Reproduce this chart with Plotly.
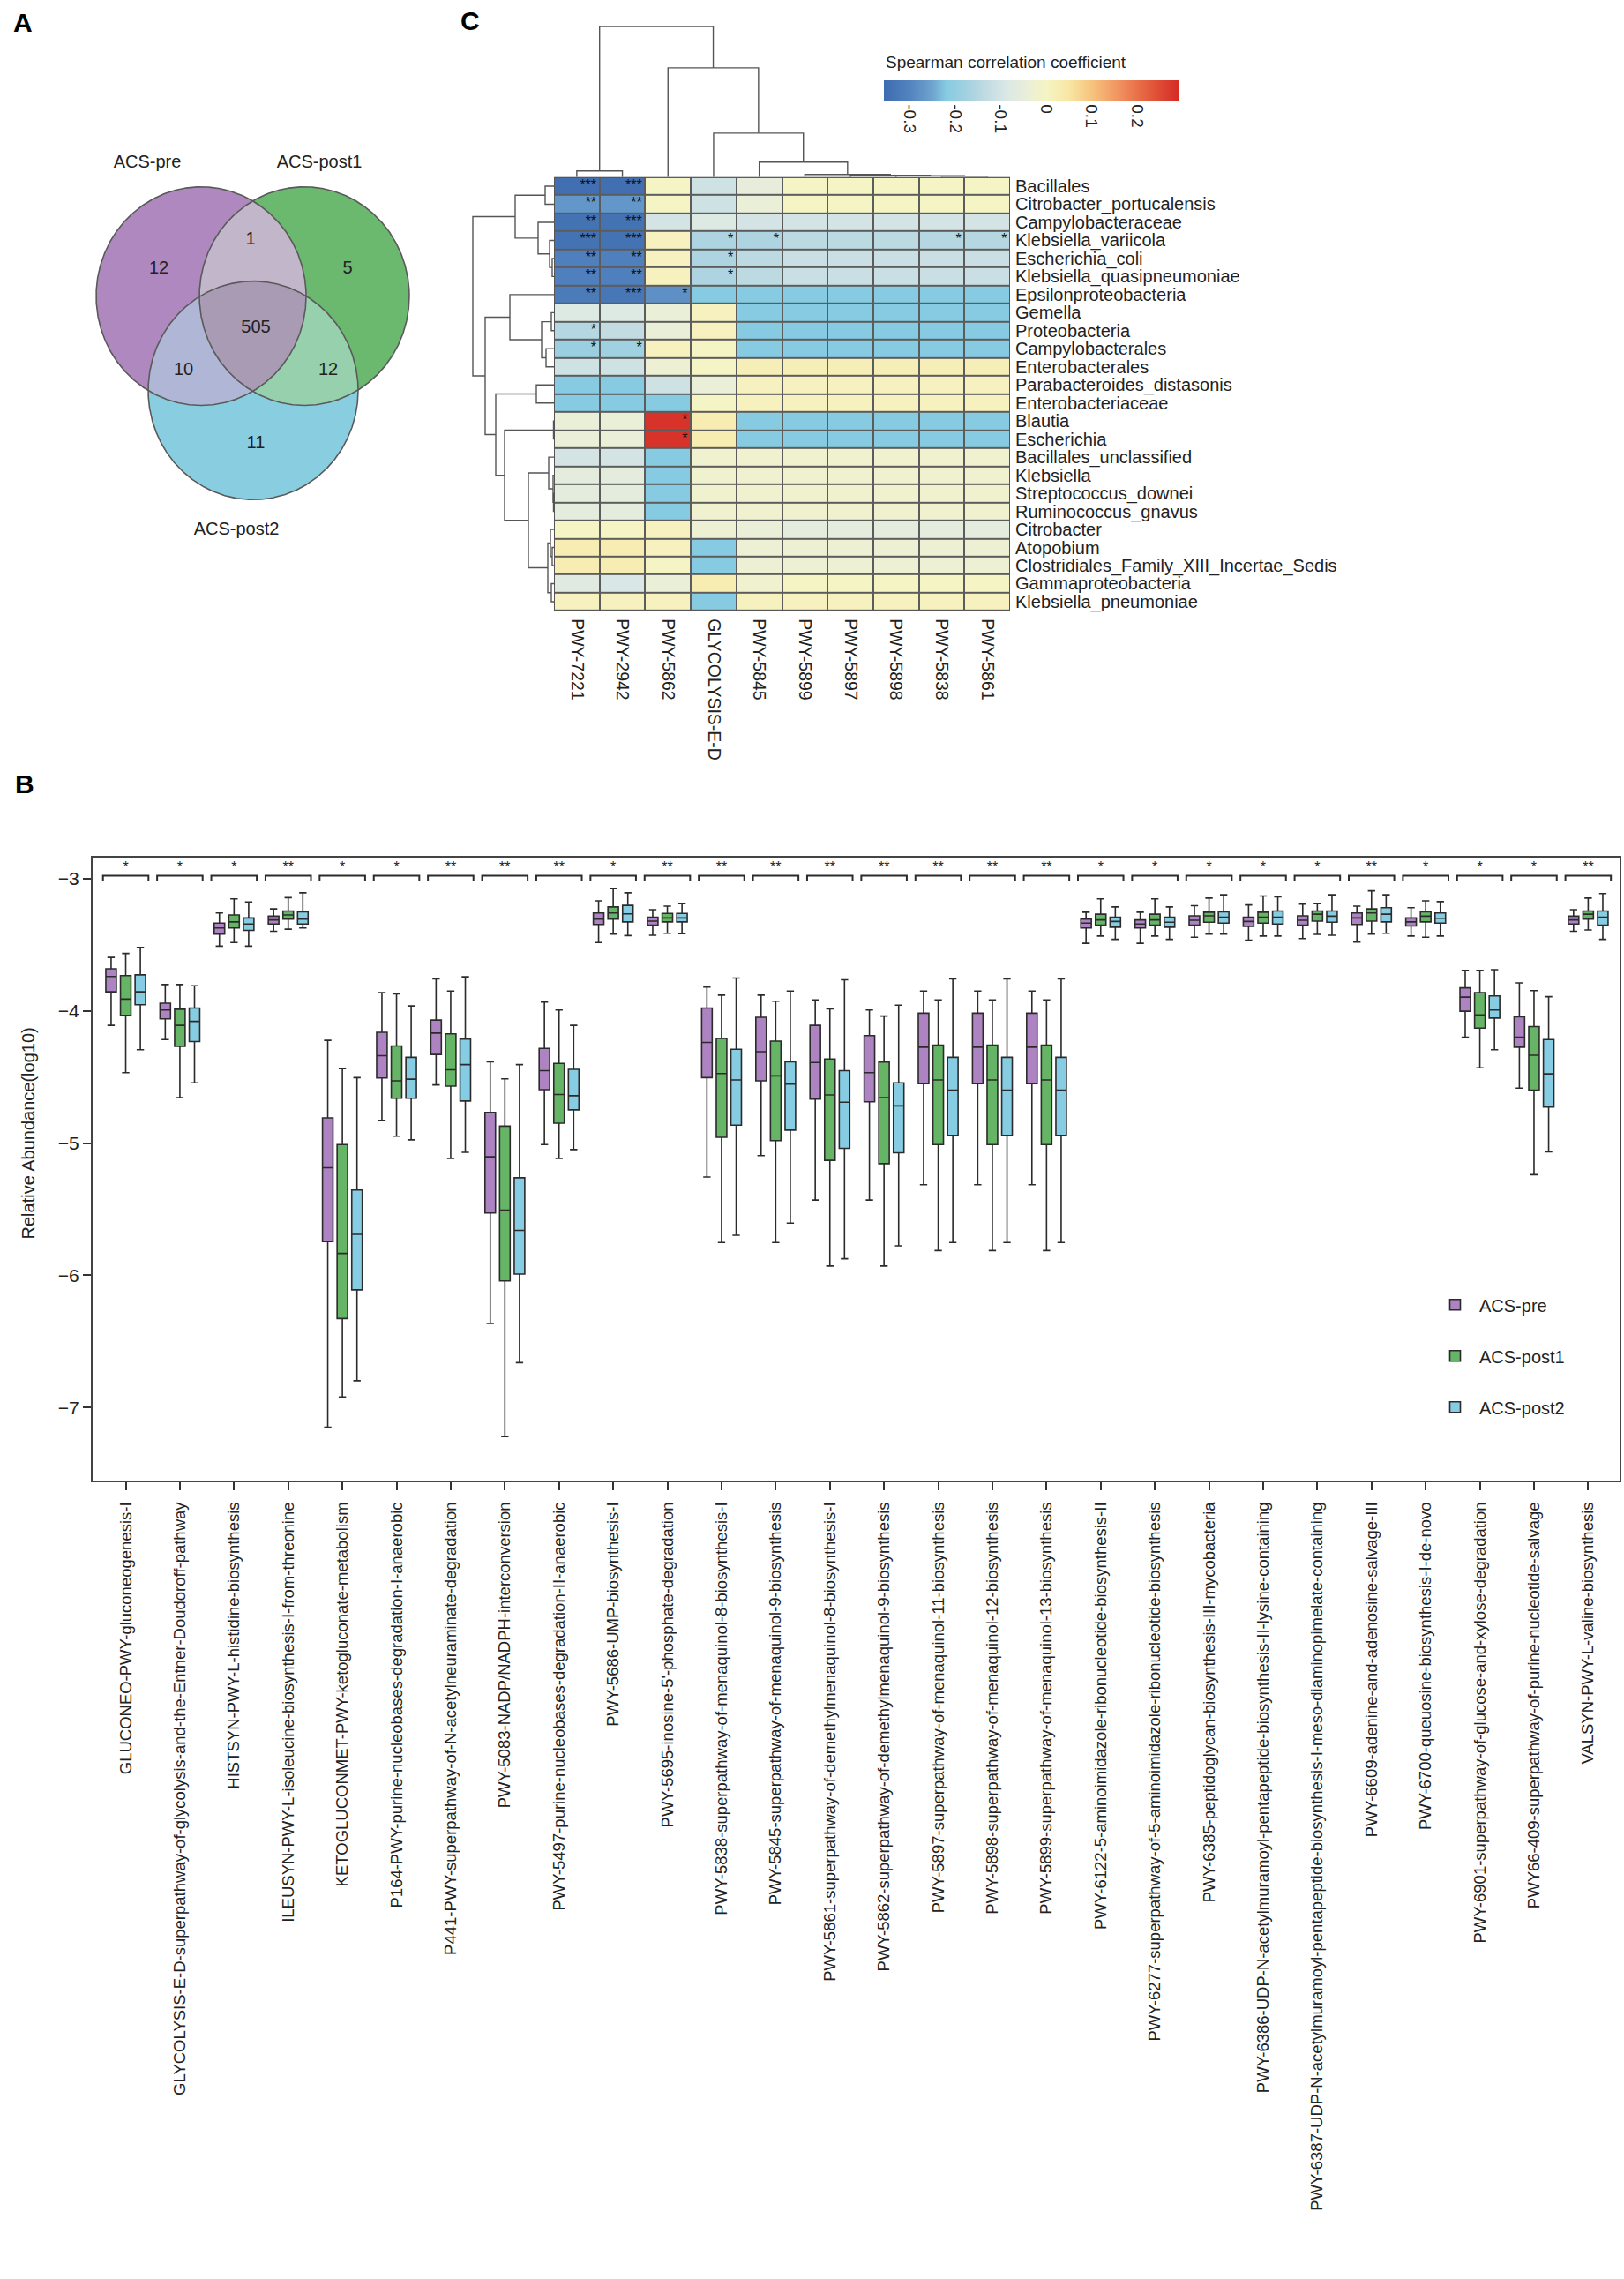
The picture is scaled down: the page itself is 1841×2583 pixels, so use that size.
import numpy as np
import plotly.graph_objects as go

W, H = 1841, 2583
FONT = "Liberation Sans, Arial, Helvetica, sans-serif"

# ---------------- Panel A : Venn data ----------------
venn_sets = ["ACS-pre", "ACS-post1", "ACS-post2"]
venn_only = [12, 5, 11]          # pre only, post1 only, post2 only
venn_pairs = [1, 10, 12]         # pre&post1, pre&post2, post1&post2
venn_all = [505]

# ---------------- Panel C : heatmap data ----------------
taxa = ["Bacillales", "Citrobacter_portucalensis", "Campylobacteraceae", "Klebsiella_variicola",
        "Escherichia_coli", "Klebsiella_quasipneumoniae", "Epsilonproteobacteria", "Gemella",
        "Proteobacteria", "Campylobacterales", "Enterobacterales", "Parabacteroides_distasonis",
        "Enterobacteriaceae", "Blautia", "Escherichia", "Bacillales_unclassified", "Klebsiella",
        "Streptococcus_downei", "Ruminococcus_gnavus", "Citrobacter", "Atopobium",
        "Clostridiales_Family_XIII_Incertae_Sedis", "Gammaproteobacteria", "Klebsiella_pneumoniae"]
heat_pathways = ["PWY-7221", "PWY-2942", "PWY-5862", "GLYCOLYSIS-E-D", "PWY-5845",
                 "PWY-5899", "PWY-5897", "PWY-5898", "PWY-5838", "PWY-5861"]
spearman = [
    [-0.35, -0.35, 0.00, -0.11, -0.05, 0.00, 0.00, 0.00, 0.00, 0.00],
    [-0.27, -0.27, 0.00, -0.11, -0.04, 0.00, 0.00, 0.00, 0.00, 0.00],
    [-0.34, -0.34, -0.10, -0.08, -0.10, -0.10, -0.10, -0.10, -0.10, -0.10],
    [-0.34, -0.34, 0.01, -0.16, -0.16, -0.14, -0.14, -0.14, -0.15, -0.15],
    [-0.31, -0.31, 0.01, -0.16, -0.14, -0.12, -0.12, -0.12, -0.12, -0.12],
    [-0.31, -0.31, 0.01, -0.16, -0.14, -0.12, -0.12, -0.12, -0.12, -0.12],
    [-0.32, -0.33, -0.28, -0.22, -0.22, -0.22, -0.22, -0.22, -0.22, -0.22],
    [-0.08, -0.08, -0.04, 0.01, -0.22, -0.22, -0.22, -0.22, -0.22, -0.22],
    [-0.15, -0.13, -0.04, 0.01, -0.22, -0.22, -0.22, -0.22, -0.22, -0.22],
    [-0.19, -0.18, 0.01, 0.00, -0.22, -0.22, -0.22, -0.22, -0.22, -0.22],
    [-0.11, -0.11, -0.03, 0.00, 0.02, 0.02, 0.02, 0.02, 0.02, 0.02],
    [-0.22, -0.22, -0.11, -0.04, 0.01, 0.01, 0.01, 0.01, 0.01, 0.01],
    [-0.22, -0.22, -0.22, 0.00, 0.01, 0.01, 0.01, 0.01, 0.01, 0.01],
    [-0.04, -0.04, 0.28, 0.03, -0.22, -0.22, -0.22, -0.22, -0.22, -0.22],
    [-0.04, -0.04, 0.28, 0.03, -0.22, -0.22, -0.22, -0.22, -0.22, -0.22],
    [-0.10, -0.10, -0.22, -0.02, -0.02, -0.02, -0.02, -0.02, -0.02, -0.02],
    [-0.06, -0.06, -0.22, -0.02, -0.02, -0.02, -0.02, -0.02, -0.02, -0.02],
    [-0.06, -0.06, -0.22, -0.02, -0.02, -0.02, -0.02, -0.02, -0.02, -0.02],
    [-0.06, -0.06, -0.22, -0.02, -0.02, -0.02, -0.02, -0.02, -0.02, -0.02],
    [0.00, 0.00, 0.01, -0.03, -0.04, -0.06, -0.06, -0.06, -0.06, -0.06],
    [0.03, 0.03, 0.01, -0.22, -0.03, -0.03, -0.03, -0.03, -0.03, -0.03],
    [0.03, 0.03, 0.00, -0.22, -0.03, -0.03, -0.03, -0.03, -0.03, -0.03],
    [-0.07, -0.09, -0.04, 0.03, -0.02, 0.00, 0.00, 0.00, 0.00, 0.00],
    [0.01, 0.01, 0.01, -0.22, 0.01, 0.01, 0.01, 0.01, 0.01, 0.01],
]
heat_sig = [
    ["***", "***", "", "", "", "", "", "", "", ""],
    ["**", "**", "", "", "", "", "", "", "", ""],
    ["**", "***", "", "", "", "", "", "", "", ""],
    ["***", "***", "", "*", "*", "", "", "", "*", "*"],
    ["**", "**", "", "*", "", "", "", "", "", ""],
    ["**", "**", "", "*", "", "", "", "", "", ""],
    ["**", "***", "*", "", "", "", "", "", "", ""],
    ["", "", "", "", "", "", "", "", "", ""],
    ["*", "", "", "", "", "", "", "", "", ""],
    ["*", "*", "", "", "", "", "", "", "", ""],
    ["", "", "", "", "", "", "", "", "", ""],
    ["", "", "", "", "", "", "", "", "", ""],
    ["", "", "", "", "", "", "", "", "", ""],
    ["", "", "*", "", "", "", "", "", "", ""],
    ["", "", "*", "", "", "", "", "", "", ""],
] + [[""] * 10 for _ in range(9)]
# hierarchical clustering (left, right, height) - scipy-like linkage, leaves in display order
col_linkage = [(0, 1, 7), (8, 9, 1), (7, 11, 1.5), (6, 12, 2), (5, 13, 3),
               (4, 14, 17), (3, 15, 50), (2, 16, 124), (10, 17, 171)]
row_linkage = [(0, 1, 10), (4, 5, 2), (3, 25, 5), (2, 26, 18), (24, 27, 44),
               (7, 8, 3), (9, 10, 9), (29, 30, 14), (6, 31, 50), (11, 12, 20),
               (13, 14, 0.5), (17, 18, 0.5), (16, 35, 1), (15, 36, 6), (20, 21, 2),
               (19, 38, 4), (22, 23, 3), (39, 40, 7), (37, 41, 29), (34, 42, 56),
               (33, 43, 66), (32, 44, 78), (28, 45, 92)]
cbar_ticks = [-0.3, -0.2, -0.1, 0, 0.1, 0.2]
cbar_labels = ["-0.3", "-0.2", "-0.1", "0", "0.1", "0.2"]

# ---------------- Panel B : box plot data ----------------
box_pathways = [
    "GLUCONEO-PWY-gluconeogenesis-I",
    "GLYCOLYSIS-E-D-superpathway-of-glycolysis-and-the-Entner-Doudoroff-pathway",
    "HISTSYN-PWY-L-histidine-biosynthesis",
    "ILEUSYN-PWY-L-isoleucine-biosynthesis-I-from-threonine",
    "KETOGLUCONMET-PWY-ketogluconate-metabolism",
    "P164-PWY-purine-nucleobases-degradation-I-anaerobic",
    "P441-PWY-superpathway-of-N-acetylneuraminate-degradation",
    "PWY-5083-NADP/NADPH-interconversion",
    "PWY-5497-purine-nucleobases-degradation-II-anaerobic",
    "PWY-5686-UMP-biosynthesis-I",
    "PWY-5695-inosine-5'-phosphate-degradation",
    "PWY-5838-superpathway-of-menaquinol-8-biosynthesis-I",
    "PWY-5845-superpathway-of-menaquinol-9-biosynthesis",
    "PWY-5861-superpathway-of-demethylmenaquinol-8-biosynthesis-I",
    "PWY-5862-superpathway-of-demethylmenaquinol-9-biosynthesis",
    "PWY-5897-superpathway-of-menaquinol-11-biosynthesis",
    "PWY-5898-superpathway-of-menaquinol-12-biosynthesis",
    "PWY-5899-superpathway-of-menaquinol-13-biosynthesis",
    "PWY-6122-5-aminoimidazole-ribonucleotide-biosynthesis-II",
    "PWY-6277-superpathway-of-5-aminoimidazole-ribonucleotide-biosynthesis",
    "PWY-6385-peptidoglycan-biosynthesis-III-mycobacteria",
    "PWY-6386-UDP-N-acetylmuramoyl-pentapeptide-biosynthesis-II-lysine-containing",
    "PWY-6387-UDP-N-acetylmuramoyl-pentapeptide-biosynthesis-I-meso-diaminopimelate-containing",
    "PWY-6609-adenine-and-adenosine-salvage-III",
    "PWY-6700-queuosine-biosynthesis-I-de-novo",
    "PWY-6901-superpathway-of-glucose-and-xylose-degradation",
    "PWY66-409-superpathway-of-purine-nucleotide-salvage",
    "VALSYN-PWY-L-valine-biosynthesis",
]
box_sig = ["*", "*", "*", "**", "*", "*", "**", "**", "**", "*", "**", "**", "**", "**",
           "**", "**", "**", "**", "*", "*", "*", "*", "*", "**", "*", "*", "*", "**"]
groups = ["ACS-pre", "ACS-post1", "ACS-post2"]

pre_lo = [-4.110, -4.217, -3.511, -3.398, -7.150, -4.829, -4.560, -6.364, -5.012, -3.483, -3.428, -5.257, -5.095, -5.431,
          -5.431, -5.315, -5.315, -5.315, -3.489, -3.489, -3.443, -3.465, -3.453, -3.480, -3.434, -4.199, -4.584, -3.398]
pre_q1 = [-3.856, -4.061, -3.419, -3.343, -5.746, -4.508, -4.330, -5.529, -4.596, -3.346, -3.352, -4.505, -4.529, -4.667,
          -4.688, -4.550, -4.550, -4.550, -3.373, -3.373, -3.352, -3.361, -3.352, -3.346, -3.358, -4.003, -4.275, -3.343]
pre_med = [-3.740, -3.994, -3.373, -3.312, -5.187, -4.339, -4.168, -5.104, -4.453, -3.306, -3.321, -4.239, -4.309, -4.391,
           -4.468, -4.275, -4.275, -4.275, -3.336, -3.343, -3.315, -3.324, -3.315, -3.297, -3.327, -3.896, -4.199, -3.312]
pre_q3 = [-3.682, -3.942, -3.336, -3.284, -4.810, -4.162, -4.070, -4.768, -4.284, -3.260, -3.291, -3.979, -4.049, -4.110,
          -4.187, -4.018, -4.018, -4.018, -3.306, -3.312, -3.281, -3.291, -3.281, -3.260, -3.297, -3.826, -4.046, -3.284]
pre_hi = [-3.596, -3.801, -3.260, -3.229, -4.223, -3.862, -3.758, -4.385, -3.933, -3.168, -3.235, -3.820, -3.881, -3.917,
          -3.994, -3.850, -3.850, -3.850, -3.254, -3.254, -3.205, -3.199, -3.193, -3.208, -3.220, -3.694, -3.789, -3.235]

post1_lo = [-4.468, -4.657, -3.483, -3.382, -6.920, -4.948, -5.116, -7.220, -5.116, -3.419, -3.413, -5.752, -5.752, -5.930,
            -5.930, -5.813, -5.813, -5.813, -3.434, -3.434, -3.419, -3.434, -3.422, -3.419, -3.443, -4.431, -5.239, -3.388]
post1_q1 = [-4.034, -4.269, -3.373, -3.306, -6.327, -4.661, -4.569, -6.043, -4.850, -3.306, -3.327, -4.957, -4.982, -5.131,
            -5.156, -5.012, -5.012, -5.012, -3.352, -3.352, -3.330, -3.336, -3.321, -3.321, -3.327, -4.131, -4.599, -3.306]
post1_med = [-3.911, -4.110, -3.327, -3.275, -5.835, -4.529, -4.446, -5.508, -4.633, -3.260, -3.297, -4.474, -4.492, -4.636,
             -4.657, -4.523, -4.523, -4.523, -3.312, -3.312, -3.281, -3.291, -3.269, -3.260, -3.284, -4.031, -4.336, -3.269]
post1_q3 = [-3.734, -3.988, -3.275, -3.245, -5.012, -4.266, -4.174, -4.872, -4.398, -3.214, -3.263, -4.208, -4.229, -4.364,
            -4.388, -4.260, -4.260, -4.260, -3.269, -3.269, -3.254, -3.254, -3.245, -3.229, -3.251, -3.862, -4.119, -3.245]
post1_hi = [-3.566, -3.801, -3.153, -3.144, -4.437, -3.872, -3.850, -4.514, -3.994, -3.076, -3.208, -3.881, -3.927, -3.985,
            -4.040, -3.917, -3.917, -3.917, -3.153, -3.153, -3.147, -3.131, -3.190, -3.092, -3.168, -3.694, -3.847, -3.147]

post2_lo = [-4.294, -4.544, -3.511, -3.373, -6.798, -4.976, -5.070, -6.661, -5.049, -3.431, -3.416, -5.697, -5.606, -5.875,
            -5.777, -5.752, -5.752, -5.752, -3.459, -3.459, -3.419, -3.434, -3.428, -3.413, -3.434, -4.294, -5.067, -3.459]
post2_q1 = [-3.954, -4.232, -3.391, -3.343, -6.110, -4.661, -4.682, -5.991, -4.749, -3.327, -3.327, -4.865, -4.902, -5.040,
            -5.073, -4.942, -4.942, -4.942, -3.367, -3.367, -3.336, -3.343, -3.330, -3.327, -3.336, -4.055, -4.728, -3.352]
post2_med = [-3.856, -4.080, -3.343, -3.306, -5.691, -4.517, -4.407, -5.661, -4.642, -3.266, -3.297, -4.523, -4.554, -4.691,
             -4.719, -4.599, -4.599, -4.599, -3.324, -3.330, -3.291, -3.291, -3.284, -3.269, -3.300, -3.994, -4.477, -3.291]
post2_q3 = [-3.728, -3.979, -3.297, -3.251, -5.355, -4.352, -4.214, -5.263, -4.443, -3.202, -3.263, -4.291, -4.385, -4.453,
            -4.544, -4.352, -4.352, -4.352, -3.291, -3.291, -3.251, -3.245, -3.245, -3.220, -3.260, -3.887, -4.217, -3.245]
post2_hi = [-3.520, -3.810, -3.177, -3.107, -4.505, -3.963, -3.743, -4.407, -4.110, -3.107, -3.190, -3.752, -3.850, -3.765,
            -3.957, -3.758, -3.758, -3.758, -3.214, -3.214, -3.122, -3.138, -3.122, -3.122, -3.174, -3.688, -3.893, -3.113]

box_colors = ["#AD83C1", "#66B566", "#86CDE3"]


def pxx(x):
    return x / W


def pyy(y):
    return 1 - y / H


fig = go.Figure()

# ================= Panel A : Venn =================
centers = [(228, 335), (345, 335), (287, 442)]
rx, ry = 119, 124
tt = np.linspace(0, 2 * np.pi, 1441)


def ell(c):
    return c[0] + rx * np.cos(tt), c[1] + ry * np.sin(tt)


def inside(x, y, c):
    return ((x - c[0]) / rx) ** 2 + ((y - c[1]) / ry) ** 2 <= 1 + 1e-9


def region(ids):
    xs, ys = [], []
    for i in ids:
        ex, ey = ell(centers[i])
        m = np.ones_like(ex, dtype=bool)
        for j in ids:
            if j != i:
                m &= inside(ex, ey, centers[j])
        xs.append(ex[m])
        ys.append(ey[m])
    X = np.concatenate(xs)
    Y = np.concatenate(ys)
    cx, cy = X.mean(), Y.mean()
    o = np.argsort(np.arctan2(Y - cy, X - cx))
    X, Y = X[o], Y[o]
    return list(X) + [X[0]], list(Y) + [Y[0]]


single_cols = ["#AE88BE", "#6AB96F", "#89CDE1"]
pair_ids = [(0, 1), (0, 2), (1, 2)]
pair_cols = ["#C1B6CA", "#B0B6D5", "#96D0AC"]
for i in range(3):
    ex, ey = ell(centers[i])
    fig.add_trace(go.Scatter(x=ex, y=ey, fill="toself", fillcolor=single_cols[i], mode="lines",
                             line=dict(width=0), hoverinfo="skip", showlegend=False,
                             xaxis="x5", yaxis="y5"))
for ids, col in zip(pair_ids, pair_cols):
    X, Y = region(ids)
    fig.add_trace(go.Scatter(x=X, y=Y, fill="toself", fillcolor=col, mode="lines",
                             line=dict(width=0), hoverinfo="skip", showlegend=False,
                             xaxis="x5", yaxis="y5"))
X, Y = region((0, 1, 2))
fig.add_trace(go.Scatter(x=X, y=Y, fill="toself", fillcolor="#AA9BB4", mode="lines",
                         line=dict(width=0), hoverinfo="skip", showlegend=False,
                         xaxis="x5", yaxis="y5"))
for i in range(3):
    ex, ey = ell(centers[i])
    fig.add_trace(go.Scatter(x=ex, y=ey, mode="lines", line=dict(width=1.6, color="#5a5a5a"),
                             hoverinfo="skip", showlegend=False, xaxis="x5", yaxis="y5"))

count_pos_x = [180, 394, 290, 284, 208, 372, 290]
count_pos_y = [304, 304, 503, 271, 419, 419, 371]
venn_counts = venn_only + venn_pairs + venn_all
fig.add_trace(go.Scatter(x=count_pos_x, y=count_pos_y, mode="text",
                         text=[str(v) for v in venn_counts],
                         textfont=dict(size=20, color="#222222", family=FONT),
                         hoverinfo="skip", showlegend=False, xaxis="x5", yaxis="y5"))
set_pos = [(167, 184), (362, 184), (268, 601)]
fig.add_trace(go.Scatter(x=[p[0] for p in set_pos], y=[p[1] for p in set_pos], mode="text",
                         text=venn_sets, textfont=dict(size=20, color="#222222", family=FONT),
                         hoverinfo="skip", showlegend=False, xaxis="x5", yaxis="y5"))

# ================= Panel C : heatmap =================
zmin, zmax = -0.357, 0.291
stops = [(-0.357, "#3E6CB0"), (-0.30, "#5383BF"), (-0.25, "#6FA4CF"), (-0.22, "#86CBE2"),
         (-0.17, "#A6D2E0"), (-0.13, "#C3DCE2"), (-0.09, "#D9E7E6"), (-0.045, "#E9EEDA"),
         (0.0, "#F5F4C4"), (0.05, "#F8E6A4"), (0.10, "#F6C47E"), (0.16, "#F1925F"),
         (0.22, "#E4613F"), (0.291, "#D52B26")]
cscale = [[(v - zmin) / (zmax - zmin), c] for v, c in stops]
cscale[0][0] = 0.0
cscale[-1][0] = 1.0

fig.add_trace(go.Heatmap(
    z=spearman, x=list(range(len(heat_pathways))), y=list(range(len(taxa))),
    colorscale=cscale, zmin=zmin, zmax=zmax, xgap=2, ygap=2, hoverinfo="skip",
    xaxis="x2", yaxis="y2",
    colorbar=dict(orientation="h", x=pxx(1002), xanchor="left", y=pyy(90), yanchor="top",
                  len=334 / W, lenmode="fraction", thickness=23, thicknessmode="pixels",
                  outlinewidth=0, ticks="", tickvals=cbar_ticks, ticktext=cbar_labels,
                  tickangle=90, tickfont=dict(size=19, family=FONT, color="#222222"),
                  xpad=0, ypad=0)))

sx, sy, st = [], [], []
for r, row in enumerate(heat_sig):
    for c, s in enumerate(row):
        if s:
            sx.append(c + 0.43)
            sy.append(r)
            st.append(s)
fig.add_trace(go.Scatter(x=sx, y=sy, text=st, mode="text", textposition="middle left",
                         textfont=dict(size=16, color="#111111", family=FONT),
                         hoverinfo="skip", showlegend=False, xaxis="x2", yaxis="y2"))


def dendro(link, n):
    pos = {i: float(i) for i in range(n)}
    hgt = {i: 0.0 for i in range(n)}
    ps, hs = [], []
    for k, (a, b, h) in enumerate(link):
        ps += [pos[a], pos[a], pos[b], pos[b], None]
        hs += [hgt[a], h, h, hgt[b], None]
        pos[n + k] = (pos[a] + pos[b]) / 2
        hgt[n + k] = h
    return ps, hs


cp, ch = dendro(col_linkage, len(heat_pathways))
fig.add_trace(go.Scatter(x=cp, y=ch, mode="lines", line=dict(color="#555555", width=1.4),
                         hoverinfo="skip", showlegend=False, xaxis="x3", yaxis="y3"))
rp, rh = dendro(row_linkage, len(taxa))
fig.add_trace(go.Scatter(x=rh, y=rp, mode="lines", line=dict(color="#555555", width=1.4),
                         hoverinfo="skip", showlegend=False, xaxis="x4", yaxis="y4"))

# ================= Panel B : box plots =================
xs = list(range(len(box_pathways)))
stats = [(pre_lo, pre_q1, pre_med, pre_q3, pre_hi),
         (post1_lo, post1_q1, post1_med, post1_q3, post1_hi),
         (post2_lo, post2_q1, post2_med, post2_q3, post2_hi)]
for g, (lo, q1, md, q3, hi) in enumerate(stats):
    fig.add_trace(go.Box(x=xs, lowerfence=lo, q1=q1, median=md, q3=q3, upperfence=hi,
                         name=groups[g], legendgroup=groups[g], fillcolor=box_colors[g],
                         line=dict(color="#2b2b2b", width=1.6), whiskerwidth=0.7,
                         boxpoints=False, hoverinfo="skip", xaxis="x", yaxis="y"))

bx, by = [], []
for i in xs:
    bx += [i - 0.42, i - 0.42, i + 0.42, i + 0.42, None]
    by += [-3.02, -2.978, -2.978, -3.02, None]
fig.add_trace(go.Scatter(x=bx, y=by, mode="lines", line=dict(color="#2b2b2b", width=2),
                         hoverinfo="skip", showlegend=False, xaxis="x", yaxis="y"))
fig.add_trace(go.Scatter(x=xs, y=[-2.922] * len(xs), text=box_sig, mode="text",
                         textfont=dict(size=16, color="#222222", family=FONT),
                         hoverinfo="skip", showlegend=False, xaxis="x", yaxis="y"))

# ================= Layout =================
hm_x = [pxx(628), pxx(1145)]
hm_y = [pyy(692), pyy(200)]
layout = dict(
    width=W, height=H, autosize=False,
    margin=dict(l=0, r=0, t=0, b=0),
    paper_bgcolor="white", plot_bgcolor="white",
    font=dict(family=FONT, color="#222222"),
    boxmode="group", boxgap=0.19, boxgroupgap=0.28,
    showlegend=True,
    legend=dict(x=pxx(1622), y=pyy(1460), xanchor="left", yanchor="top",
                font=dict(size=20, family=FONT, color="#222222"), itemwidth=45,
                tracegroupgap=29, bgcolor="rgba(0,0,0,0)", traceorder="grouped"),
    # box plot axes
    xaxis=dict(domain=[pxx(105), pxx(1836)], range=[-0.611, 27.58], anchor="y",
               tickmode="array", tickvals=xs, ticktext=box_pathways, tickangle=-90,
               ticks="outside", ticklen=9, tickwidth=1.5, tickcolor="#333333",
               tickfont=dict(size=18.5, family=FONT, color="#222222"),
               showline=True, mirror=True, linecolor="#444444", linewidth=2,
               showgrid=False, zeroline=False, ticklabelstandoff=6),
    yaxis=dict(domain=[pyy(1679), pyy(972)], range=[-7.553, -2.84], anchor="x",
               tickmode="array", tickvals=[-3, -4, -5, -6, -7],
               ticks="outside", ticklen=9, tickwidth=1.5, tickcolor="#333333",
               tickfont=dict(size=21, family=FONT, color="#222222"),
               showline=True, mirror=True, linecolor="#444444", linewidth=2,
               showgrid=False, zeroline=False),
    # heatmap axes
    xaxis2=dict(domain=hm_x, range=[-0.5, 9.5], anchor="y2", tickmode="array",
                tickvals=list(range(len(heat_pathways))), ticktext=heat_pathways,
                tickangle=90, ticks="", showgrid=False, zeroline=False, showline=False,
                tickfont=dict(size=19.5, family=FONT, color="#222222"), ticklabelstandoff=8),
    yaxis2=dict(domain=hm_y, range=[23.5, -0.5], anchor="x2", side="right", tickmode="array",
                tickvals=list(range(len(taxa))), ticktext=taxa, ticks="", showgrid=False,
                zeroline=False, showline=False,
                tickfont=dict(size=20, family=FONT, color="#222222"), ticklabelstandoff=5),
    # column dendrogram
    xaxis3=dict(domain=hm_x, range=[-0.5, 9.5], anchor="y3", visible=False),
    yaxis3=dict(domain=[pyy(200), pyy(27)], range=[0, 173], anchor="x3", visible=False),
    # row dendrogram
    xaxis4=dict(domain=[pxx(530), pxx(628)], range=[98, 0], anchor="y4", visible=False),
    yaxis4=dict(domain=hm_y, range=[23.5, -0.5], anchor="x4", visible=False),
    # venn
    xaxis5=dict(domain=[0, pxx(500)], range=[0, 500], anchor="y5", visible=False),
    yaxis5=dict(domain=[pyy(640), 1], range=[640, 0], anchor="x5", visible=False),
)
fig.update_layout(**layout)

fig.add_shape(type="rect", xref="x2", yref="y2", x0=-0.5, x1=9.5, y0=-0.5, y1=23.5,
              fillcolor="#5c5c5c", line=dict(width=0), layer="below")
fig.add_shape(type="rect", xref="x2", yref="y2", x0=-0.5, x1=9.5, y0=-0.5, y1=23.5,
              fillcolor="rgba(0,0,0,0)", line=dict(color="#555555", width=2), layer="above")

annots = [
    dict(text="<b>A</b>", x=pxx(13), y=pyy(25)),
    dict(text="<b>C</b>", x=pxx(520), y=pyy(23)),
    dict(text="<b>B</b>", x=pxx(15), y=pyy(889)),
]
for a in annots:
    fig.add_annotation(xref="paper", yref="paper", xanchor="left", yanchor="middle",
                       showarrow=False, font=dict(size=30, family=FONT, color="black"), **a)
fig.add_annotation(text="Spearman correlation coefficient", xref="paper", yref="paper",
                   x=pxx(1002), y=pyy(70), xanchor="left", yanchor="middle", showarrow=False,
                   font=dict(size=19, family=FONT, color="#222222"))
fig.add_annotation(text="Relative Abundance(log10)", xref="paper", yref="paper",
                   x=pxx(32), y=pyy(1285), xanchor="center", yanchor="middle", textangle=-90,
                   showarrow=False, font=dict(size=20, family=FONT, color="#222222"))

fig.write_html("out.html", config={"displayModeBar": False},
               post_script="document.body.style.margin='0';")
